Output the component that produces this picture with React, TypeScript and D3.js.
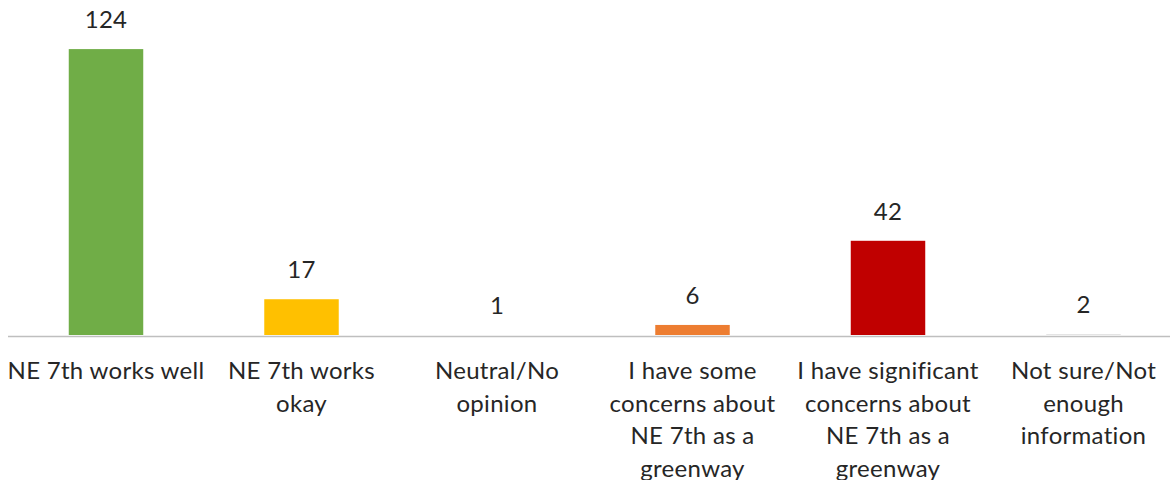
import React from "react";
import * as d3 from "d3";

const categories = [
  "NE 7th works well",
  "NE 7th works\nokay",
  "Neutral/No\nopinion",
  "I have some\nconcerns about\nNE 7th as a\ngreenway",
  "I have significant\nconcerns about\nNE 7th as a\ngreenway",
  "Not sure/Not\nenough\ninformation",
];
const values = [124, 17, 1, 6, 42, 2];
const colors = ["#70AD47", "#FFC000", "#A5A5A5", "#ED7D31", "#C00000", "#D9D9D9"];

const W = 1170;
const H = 480;
const FONT = "Lato, 'Open Sans', sans-serif";

export default function App() {
  const x = d3
    .scaleBand<number>()
    .domain(d3.range(categories.length))
    .range([8.25, 1181.25])
    .paddingInner(0.619)
    .paddingOuter(0.3095);
  const y = d3.scaleLinear().domain([1.7, 145]).range([335, 0]);
  const base = y(1.7);

  return (
    <svg
      width={W}
      height={H}
      style={{ position: "absolute", left: 0, top: 0, background: "#fff" }}
      fontFamily={FONT}
    >
      {values.map((v, i) => {
        const top = Math.min(y(v), base);
        return (
          <g key={i}>
            <rect x={x(i)} y={top} width={x.bandwidth()} height={base - top} fill={colors[i]} />
            <text
              x={(x(i) as number) + x.bandwidth() / 2}
              y={top - 21}
              textAnchor="middle"
              fontSize={24}
              letterSpacing={0.3}
              fill="#262626"
            >
              {v}
            </text>
          </g>
        );
      })}
      <line x1={8} x2={W} y1={336.5} y2={336.5} stroke="#BFBFBF" strokeWidth={1.5} />
      {categories.map((c, i) => (
        <text
          key={i}
          x={(x(i) as number) + x.bandwidth() / 2}
          y={379}
          textAnchor="middle"
          fontSize={24}
          letterSpacing={0.3}
          fill="#262626"
        >
          {c.split("\n").map((line, j) => (
            <tspan key={j} x={(x(i) as number) + x.bandwidth() / 2} dy={j === 0 ? 0 : 32.7}>
              {line}
            </tspan>
          ))}
        </text>
      ))}
    </svg>
  );
}
